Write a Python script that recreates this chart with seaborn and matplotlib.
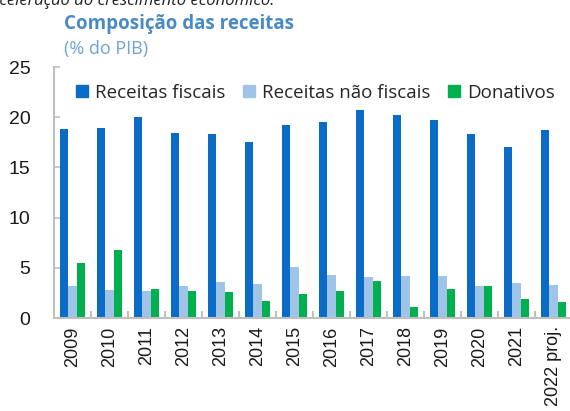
import matplotlib.pyplot as plt
import seaborn as sns
import pandas as pd
from matplotlib.ticker import FixedLocator

# Values (% do PIB)
years = ['2009', '2010', '2011', '2012', '2013', '2014', '2015', '2016',
         '2017', '2018', '2019', '2020', '2021', '2022 proj.']
receitas_fiscais = [18.8, 18.9, 20.0, 18.4, 18.3, 17.5, 19.2, 19.5,
                    20.7, 20.2, 19.7, 18.3, 17.0, 18.7]
receitas_nao_fiscais = [3.2, 2.75, 2.65, 3.2, 3.55, 3.4, 5.05, 4.3,
                        4.05, 4.15, 4.15, 3.15, 3.5, 3.3]
donativos = [5.5, 6.8, 2.85, 2.65, 2.55, 1.65, 2.4, 2.65,
             3.65, 1.1, 2.85, 3.2, 1.85, 1.6]

series = ['Receitas fiscais', 'Receitas não fiscais', 'Donativos']
colors = ['#0a6cc6', '#9fc4e8', '#00b04f']

df = pd.DataFrame({'Ano': years,
                   series[0]: receitas_fiscais,
                   series[1]: receitas_nao_fiscais,
                   series[2]: donativos})
df_long = df.melt(id_vars='Ano', var_name='Serie', value_name='Valor')

sns.set_style('white')
plt.rcParams['font.family'] = ['Liberation Sans', 'DejaVu Sans']

fig = plt.figure(figsize=(5.7, 4.11), dpi=100)
ax = fig.add_axes([54 / 570, 1 - 318 / 411, 518 / 570, 251 / 411])

sns.barplot(data=df_long, x='Ano', y='Valor', hue='Serie', hue_order=series,
            palette=colors, width=0.67, ax=ax, legend=False, saturation=1,
            linewidth=0, edgecolor='none')

ax.set_xlim(-0.5, 13.5)
ax.set_ylim(0, 25)
ax.set_yticks([0, 5, 10, 15, 20, 25])
ax.set_xlabel('')
ax.set_ylabel('')

for s in ['top', 'right']:
    ax.spines[s].set_visible(False)
for s in ['left', 'bottom']:
    ax.spines[s].set_color('#bfbfbf')
    ax.spines[s].set_linewidth(1.5)

ax.tick_params(axis='y', direction='in', length=4, color='#bfbfbf', width=1.2,
               labelsize=14, pad=17, left=True, labelcolor='#1a1a1a')
ax.tick_params(axis='x', which='major', length=0, labelsize=13, pad=6,
               labelrotation=90, labelcolor='#1a1a1a')
ax.xaxis.set_minor_locator(FixedLocator([i + 0.5 for i in range(13)]))
ax.tick_params(axis='x', which='minor', direction='in', length=5,
               color='#bfbfbf', width=1.5, bottom=True)
for lbl in ax.get_xticklabels():
    lbl.set_verticalalignment('top')

# legend
handles = [plt.Line2D([], [], marker='s', linestyle='', markersize=9,
                      markerfacecolor=c, markeredgecolor=c) for c in colors]
ax.legend(handles, series, loc='upper left', bbox_to_anchor=(0.005, 1.0),
          ncol=3, frameon=False, handletextpad=0.25, columnspacing=0.8,
          handlelength=0.9, borderaxespad=0.5,
          prop={'family': 'Open Sans', 'size': 13.5})

# titles
fig.text(64 / 570, 1 - 29 / 411, 'Composição das receitas', fontsize=13.5,
         fontweight='bold', color='#4a8ac4', family='Open Sans', va='baseline')
fig.text(64 / 570, 1 - 54 / 411, '(% do PIB)', fontsize=13,
         color='#6fa3d6', family='Open Sans', va='baseline')
fig.text(-10 / 570, 1 - 5 / 411, 'aceleração do crescimento económico.',
         fontsize=12, style='italic', color='#222222', family='Open Sans',
         va='baseline')

fig.savefig('out.png', dpi=100)
